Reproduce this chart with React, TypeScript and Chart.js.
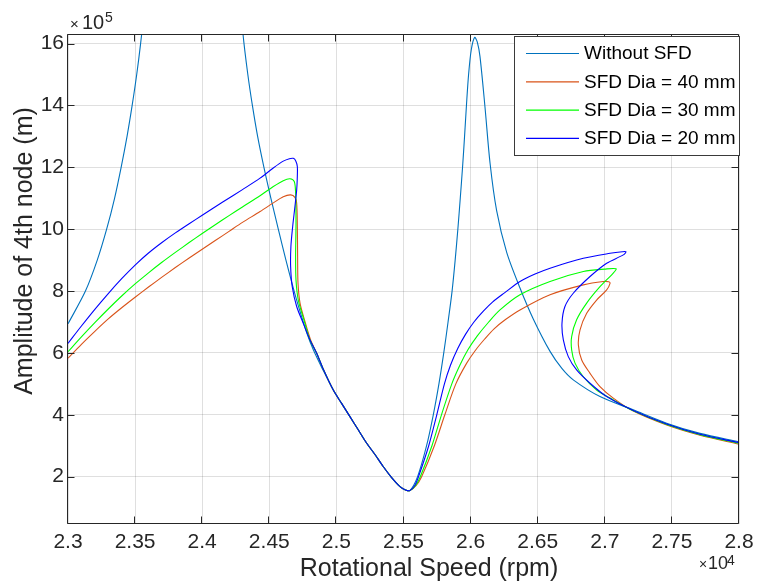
import React, { useEffect, useRef } from "react";
import { Chart, registerables } from "chart.js";

Chart.register(...registerables);

// ---------- axis ticks ----------
const xTicks = [2.3, 2.35, 2.4, 2.45, 2.5, 2.55, 2.6, 2.65, 2.7, 2.75, 2.8];
const xTickLabels = ["2.3", "2.35", "2.4", "2.45", "2.5", "2.55", "2.6", "2.65", "2.7", "2.75", "2.8"];
const yTicks = [2, 4, 6, 8, 10, 12, 14, 16];
const yTickLabels = ["2", "4", "6", "8", "10", "12", "14", "16"];

const xTitle = "Rotational Speed (rpm)";
const yTitle = "Amplitude of 4th node (m)";

const seriesNames = ["Without SFD", "SFD Dia = 40 mm", "SFD Dia = 30 mm", "SFD Dia = 20 mm"];
const seriesColors = ["#0072BD", "#D95319", "#00FF00", "#0000FF"];

// ---------- data (x in 1e4 rpm, y in 1e-5 m) ----------
const withoutX = [
  2.3, 2.313, 2.3218, 2.3288, 2.3347, 2.3396, 2.344, 2.3478, 2.3512, 2.3541, 2.3566, 2.3598, 2.3625,
  2.375, 2.41, 2.424, 2.4275, 2.4304, 2.434, 2.4374, 2.4413, 2.446, 2.4512, 2.4567, 2.4624, 2.4685,
  2.4732, 2.4779, 2.4828, 2.49, 2.4977, 2.504, 2.5101, 2.5165, 2.5226, 2.529, 2.535, 2.541, 2.5474,
  2.5515, 2.5548, 2.5605, 2.5672, 2.5722, 2.5764, 2.58, 2.5832, 2.5862, 2.5885, 2.5905, 2.5923, 2.594,
  2.5955, 2.5969, 2.5985, 2.6005, 2.603, 2.605, 2.607, 2.6107, 2.6145, 2.6194, 2.6269, 2.6368, 2.6467,
  2.6592, 2.668, 2.6765, 2.6964, 2.7212, 2.7461, 2.7709, 2.8,
];
const withoutY = [
  6.94, 8, 9, 10, 11, 12, 13, 14, 15, 16, 17, 18.5, 20,
  30, 30, 20, 18, 16.31, 15, 14, 13, 12, 11, 10, 9, 8,
  7.3, 6.65, 6.1, 5.45, 4.8, 4.36, 3.94, 3.5, 3.08, 2.7, 2.32, 1.98, 1.68,
  1.57, 1.55, 2, 3, 4, 5, 6, 7, 8, 9, 10, 11, 12,
  13, 14, 15, 15.8, 16.2, 16.05, 15.58, 13.96, 12.13, 10.6, 9.25, 8.1, 7.1,
  6.05, 5.5, 5.13, 4.59, 4.16, 3.73, 3.4, 3.13,
];

const sfd40X = [
  2.3, 2.31, 2.32, 2.33, 2.34, 2.35, 2.36, 2.37, 2.38, 2.39, 2.4, 2.41, 2.42, 2.43, 2.4431, 2.453,
  2.4604, 2.4659, 2.4691, 2.4704, 2.4709, 2.4711, 2.4714, 2.4729, 2.4766, 2.4808, 2.4853, 2.49, 2.4977,
  2.504, 2.5101, 2.5165, 2.5226, 2.529, 2.535, 2.541, 2.5474, 2.5515, 2.5548, 2.5595, 2.5635, 2.573,
  2.5808, 2.589, 2.5971, 2.6035, 2.6105, 2.6175, 2.626, 2.6368, 2.6592, 2.684, 2.6989, 2.703, 2.7039,
  2.7014, 2.6939, 2.6865, 2.6815, 2.6803, 2.6828, 2.689, 2.6964, 2.7063, 2.7212, 2.7461, 2.7709, 2.8,
];
const sfd40Y = [
  5.83, 6.28, 6.7, 7.1, 7.46, 7.8, 8.13, 8.45, 8.76, 9.06, 9.35, 9.64, 9.93, 10.22, 10.57, 10.85,
  11.05, 11.11, 11.03, 10.84, 10.08, 9.11, 8.25, 7.61, 7.01, 6.42, 5.99, 5.5, 4.8,
  4.36, 3.94, 3.5, 3.08, 2.7, 2.32, 1.98, 1.68, 1.57, 1.55, 1.72, 2.0, 3.0,
  4.0, 5.0, 5.67, 6.08, 6.45, 6.78, 7.08, 7.39, 7.88, 8.2, 8.31, 8.3, 8.25,
  8.04, 7.71, 7.28, 6.74, 6.26, 5.77, 5.34, 4.91, 4.54, 4.12, 3.67, 3.34, 3.05,
];

const sfd30X = [
  2.3, 2.31, 2.32, 2.33, 2.34, 2.35, 2.36, 2.37, 2.38, 2.39, 2.4, 2.41, 2.42, 2.43, 2.4431, 2.453,
  2.4604, 2.4654, 2.4686, 2.4696, 2.4699, 2.4696, 2.4699, 2.4716, 2.4758, 2.4803, 2.4853, 2.49, 2.4977,
  2.504, 2.5101, 2.5165, 2.5226, 2.529, 2.535, 2.541, 2.5474, 2.5515, 2.5548, 2.559, 2.5625, 2.5712,
  2.5783, 2.586, 2.592, 2.598, 2.605, 2.6135, 2.6219, 2.6368, 2.6592, 2.684, 2.7, 2.7084, 2.7063,
  2.6964, 2.6865, 2.679, 2.6753, 2.6753, 2.6778, 2.684, 2.6939, 2.7039, 2.7212, 2.7461, 2.7709, 2.8,
];
const sfd30Y = [
  6.04, 6.52, 6.98, 7.42, 7.84, 8.23, 8.59, 8.93, 9.25, 9.56, 9.86, 10.15, 10.44, 10.72, 11.08, 11.38,
  11.57, 11.63, 11.54, 11.16, 10.19, 9.11, 8.36, 7.71, 7.07, 6.42, 5.99, 5.5, 4.8,
  4.36, 3.94, 3.5, 3.08, 2.7, 2.32, 1.98, 1.68, 1.57, 1.55, 1.72, 2.0, 3.0,
  4.0, 5.0, 5.6, 6.1, 6.55, 7.0, 7.39, 7.88, 8.31, 8.63, 8.71, 8.72, 8.58,
  8.14, 7.61, 7.07, 6.53, 6.1, 5.67, 5.23, 4.8, 4.54, 4.13, 3.69, 3.36, 3.08,
];

const sfd20X = [
  2.3, 2.31, 2.32, 2.33, 2.34, 2.35, 2.36, 2.37, 2.38, 2.39, 2.4, 2.415, 2.43, 2.4431, 2.453, 2.4604,
  2.465, 2.4679, 2.4698, 2.4709, 2.4708, 2.4704, 2.4691, 2.4674, 2.4661, 2.4659, 2.4671, 2.4704, 2.4753,
  2.4803, 2.4853, 2.49, 2.4977, 2.504, 2.5101, 2.5165, 2.5226, 2.529, 2.535, 2.541, 2.5474, 2.5515,
  2.5548, 2.5585, 2.5612, 2.5688, 2.5748, 2.5805, 2.585, 2.5905, 2.5962, 2.6025, 2.6095, 2.6165, 2.6255,
  2.6368, 2.648, 2.6592, 2.684, 2.7039, 2.713, 2.7158, 2.7138, 2.7014, 2.689, 2.6765, 2.6703, 2.6681,
  2.6691, 2.6728, 2.679, 2.689, 2.7014, 2.7212, 2.7461, 2.7709, 2.8,
];
const sfd20Y = [
  6.31, 6.87, 7.41, 7.92, 8.4, 8.84, 9.23, 9.57, 9.88, 10.17, 10.45, 10.87, 11.28, 11.65, 11.98, 12.2,
  12.28, 12.29, 12.2, 12.02, 11.6, 11.27, 10.73, 10.08, 9.44, 8.79, 8.14, 7.5, 6.96,
  6.42, 5.99, 5.5, 4.8, 4.36, 3.94, 3.5, 3.08, 2.7, 2.32, 1.98, 1.68, 1.57,
  1.55, 1.72, 2.0, 3.0, 4.0, 5.0, 5.6, 6.15, 6.6, 7.0, 7.35, 7.65, 7.95,
  8.31, 8.55, 8.74, 9.06, 9.22, 9.27, 9.27, 9.17, 8.9, 8.47, 7.93, 7.5, 6.96,
  6.42, 5.88, 5.45, 5.02, 4.59, 4.14, 3.7, 3.37, 3.1,
];

const Y_MIN = 0.47;
const Y_MAX = 16.31;
const X_MIN = 2.3;
const X_MAX = 2.8;

const FONT = "'Liberation Sans', Arial, Helvetica, sans-serif";
const AXIS_COLOR = "#262626";

function zip(xs: number[], ys: number[]) {
  return xs.map((x, i) => ({ x, y: ys[i] }));
}

const decorPlugin = {
  id: "matlabDecor",
  afterDatasetsDraw(chart: any) {
    const { ctx, chartArea: a, scales } = chart;
    const xs = scales.x;
    const ys = scales.y;
    ctx.save();
    ctx.strokeStyle = AXIS_COLOR;
    ctx.lineWidth = 1;
    const L = Math.round(a.left) - 0.5;
    const R = Math.round(a.right) - 0.5;
    const T = Math.round(a.top) + 0.5;
    const B = Math.round(a.bottom) - 0.5;
    ctx.beginPath();
    ctx.rect(L, T, R - L, B - T);
    ctx.stroke();
    const TL = 7;
    ctx.beginPath();
    xTicks.forEach((v) => {
      const p = Math.round(xs.getPixelForValue(v)) - 0.5;
      ctx.moveTo(p, B);
      ctx.lineTo(p, B - TL);
      ctx.moveTo(p, T);
      ctx.lineTo(p, T + TL);
    });
    yTicks.forEach((v) => {
      const p = Math.round(ys.getPixelForValue(v)) + 0.5;
      ctx.moveTo(L, p);
      ctx.lineTo(L + TL, p);
      ctx.moveTo(R, p);
      ctx.lineTo(R - TL, p);
    });
    ctx.stroke();

    // legend
    const lx = 514.5, ly = 36.5, lw = 225, lh = 119;
    ctx.fillStyle = "#ffffff";
    ctx.fillRect(lx, ly, lw, lh);
    ctx.strokeStyle = "#3a3a3a";
    ctx.strokeRect(lx, ly, lw, lh);
    ctx.save();
    ctx.beginPath();
    ctx.rect(lx, ly, lw, lh);
    ctx.clip();
    const rows = [53.5, 81.8, 110.1, 138.4];
    seriesNames.forEach((name, i) => {
      ctx.strokeStyle = seriesColors[i];
      ctx.lineWidth = 1.2;
      ctx.beginPath();
      ctx.moveTo(526, rows[i]);
      ctx.lineTo(579, rows[i]);
      ctx.stroke();
      ctx.fillStyle = "#000000";
      ctx.font = `19px ${FONT}`;
      ctx.textAlign = "left";
      ctx.textBaseline = "middle";
      ctx.fillText(name, 584, rows[i] + 0.5);
    });
    ctx.restore();
    ctx.restore();
  },
  afterDraw(chart: any) {
    const { ctx } = chart;
    ctx.save();
    ctx.fillStyle = AXIS_COLOR;
    ctx.textBaseline = "alphabetic";
    // x title
    ctx.font = `25px ${FONT}`;
    ctx.textAlign = "center";
    ctx.fillText(xTitle, 429, 576);
    // y title
    ctx.save();
    ctx.translate(32, 251);
    ctx.rotate(-Math.PI / 2);
    ctx.fillText(yTitle, 0, 0);
    ctx.restore();
    // exponent labels
    ctx.textAlign = "left";
    ctx.font = `15px ${FONT}`;
    ctx.fillText("\u00d7", 70, 29);
    ctx.font = `20px ${FONT}`;
    ctx.fillText("10", 82, 29);
    ctx.font = `14px ${FONT}`;
    ctx.fillText("5", 105, 22);

    ctx.font = `14px ${FONT}`;
    ctx.fillText("\u00d7", 699, 569);
    ctx.font = `18px ${FONT}`;
    ctx.fillText("10", 708, 569);
    ctx.font = `14px ${FONT}`;
    ctx.fillText("4", 727, 565);
    ctx.restore();
  },
};

export default function App() {
  const canvasRef = useRef<HTMLCanvasElement | null>(null);

  useEffect(() => {
    if (!canvasRef.current) return;
    const mk = (xs: number[], ys: number[], color: string, order: number) => ({
      data: zip(xs, ys),
      borderColor: color,
      backgroundColor: color,
      borderWidth: 1.1,
      pointRadius: 0,
      showLine: true,
      fill: false,
      tension: 0.3,
      order,
    });
    const chart = new Chart(canvasRef.current, {
      type: "scatter",
      data: {
        datasets: [
          mk(withoutX, withoutY, seriesColors[0], 4),
          mk(sfd40X, sfd40Y, seriesColors[1], 3),
          mk(sfd30X, sfd30Y, seriesColors[2], 2),
          mk(sfd20X, sfd20Y, seriesColors[3], 1),
        ],
      },
      options: {
        animation: false,
        responsive: false,
        maintainAspectRatio: false,
        layout: { padding: { left: 0, top: 34, right: 22, bottom: 0 } },
        elements: { line: { capBezierPoints: false } },
        plugins: {
          legend: { display: false },
          tooltip: { enabled: false },
          title: { display: false },
        },
        scales: {
          x: {
            type: "linear",
            min: X_MIN,
            max: X_MAX,
            afterBuildTicks: (scale: any) => {
              scale.ticks = xTicks.map((v) => ({ value: v }));
            },
            afterFit: (scale: any) => {
              scale.height = 62;
            },
            ticks: {
              autoSkip: false,
              maxRotation: 0,
              padding: 6,
              color: AXIS_COLOR,
              font: { family: FONT, size: 21 },
              callback: (_v: any, i: number) => xTickLabels[i],
            },
            grid: { color: "rgba(38,38,38,0.15)", lineWidth: 1, drawTicks: false },
            border: { display: false },
          },
          y: {
            type: "linear",
            min: Y_MIN,
            max: Y_MAX,
            afterBuildTicks: (scale: any) => {
              scale.ticks = yTicks.map((v) => ({ value: v }));
            },
            afterFit: (scale: any) => {
              scale.width = 68;
            },
            ticks: {
              autoSkip: false,
              padding: 4,
              color: AXIS_COLOR,
              font: { family: FONT, size: 21 },
              callback: (_v: any, i: number) => yTickLabels[i],
            },
            grid: { color: "rgba(38,38,38,0.15)", lineWidth: 1, drawTicks: false },
            border: { display: false },
          },
        },
      },
      plugins: [decorPlugin],
    } as any);
    return () => chart.destroy();
  }, []);

  return (
    <div style={{ position: "absolute", left: 0, top: 0, width: 761, height: 586, background: "#fff" }}>
      <canvas ref={canvasRef} width={761} height={586} style={{ display: "block", width: 761, height: 586 }} />
    </div>
  );
}
